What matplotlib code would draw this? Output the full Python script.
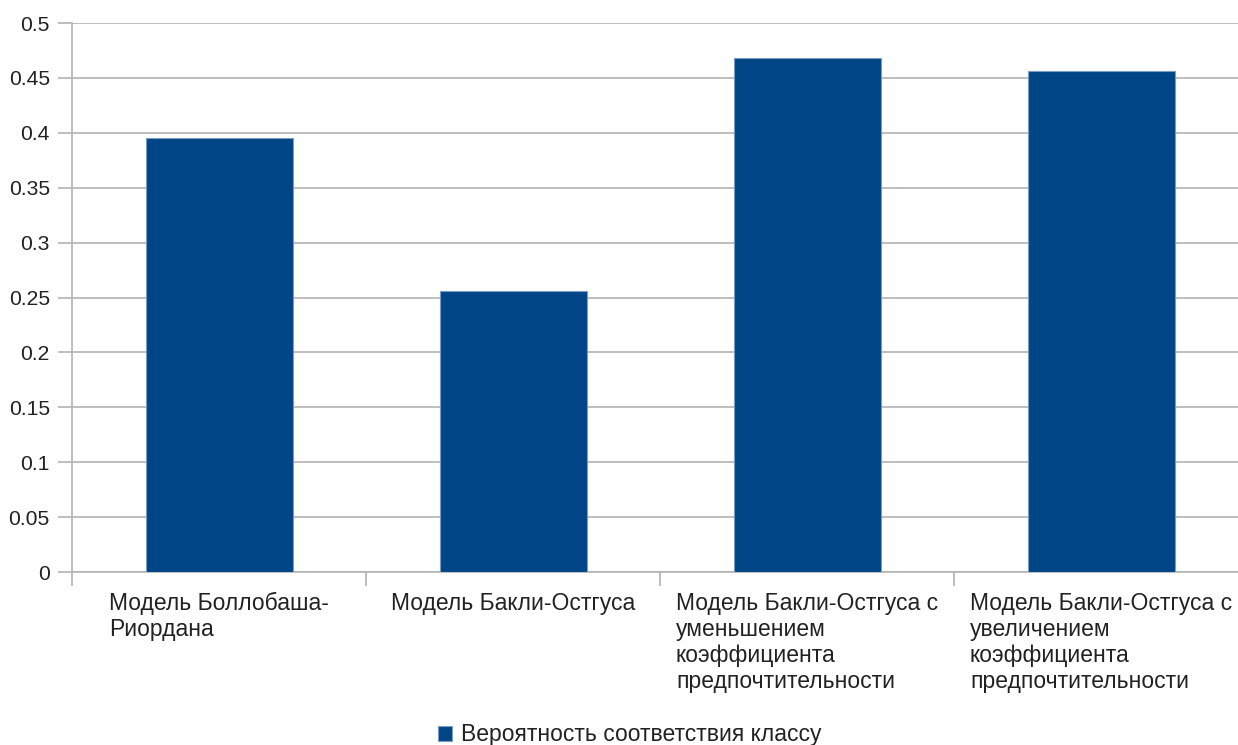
import numpy as np
import matplotlib.pyplot as plt
import matplotlib.transforms as mtransforms

plt.rcParams['font.family'] = ['Liberation Sans', 'DejaVu Sans']

# Data
categories = ['Модель Боллобаша-\nРиордана',
              'Модель Бакли-Остгуса',
              'Модель Бакли-Остгуса с\nуменьшением\nкоэффициента\nпредпочтительности',
              'Модель Бакли-Остгуса с\nувеличением\nкоэффициента\nпредпочтительности']
values = [0.395, 0.256, 0.468, 0.456]
series_name = 'Вероятность соответствия классу'
y_ticks = [0, 0.05, 0.1, 0.15, 0.2, 0.25, 0.3, 0.35, 0.4, 0.45, 0.5]

W, H = 1238, 745
fig = plt.figure(figsize=(W / 100, H / 100), dpi=100)
ax = fig.add_axes([72 / W, (H - 572) / H, (1248 - 72) / W, (572 - 23) / H])

grid_col = '#b3b3b3'
bar_col = '#004586'
txt_col = '#222222'
fs = 16.5
x = np.arange(len(categories))
bars = ax.bar(x, values, width=0.5, color=bar_col, edgecolor='#7a9cc6',
              linewidth=0.8, label=series_name, zorder=3)

ax.set_xlim(-0.5, len(categories) - 0.5)
ax.set_ylim(0, 0.5)
ax.set_yticks(y_ticks)
ax.set_yticklabels([f'{t:g}' for t in y_ticks], fontsize=15.2, color=txt_col)
ax.yaxis.grid(True, color=grid_col, linewidth=1.2, zorder=0)
ax.tick_params(axis='y', length=10, color=grid_col, width=1.2, pad=6)

# category boundary ticks
ax.set_xticks(np.arange(len(categories)) - 0.5)
ax.set_xticklabels([])
ax.tick_params(axis='x', length=10, color=grid_col, width=1.2)

for s in ['top', 'right']:
    ax.spines[s].set_visible(False)
for s in ['left', 'bottom']:
    ax.spines[s].set_color(grid_col)
    ax.spines[s].set_linewidth(1.2)

# category labels: block centred in slot, lines left aligned
trans = mtransforms.blended_transform_factory(ax.transData, ax.transAxes)
offset = mtransforms.ScaledTranslation(0, -20 / 100, fig.dpi_scale_trans)
for i, lab in enumerate(categories):
    ax.text(i, 0, lab, transform=trans + offset, ha='center', va='top',
            multialignment='left', fontsize=fs, color=txt_col,
            linespacing=1.16)

fig.legend(handles=[bars], labels=[series_name], loc='center',
           bbox_to_anchor=(630 / W, 1 - 735 / H), frameon=False,
           fontsize=fs, handlelength=0.6, handleheight=0.6,
           handletextpad=0.4, labelcolor=txt_col)

fig.savefig('out.png', dpi=100)
